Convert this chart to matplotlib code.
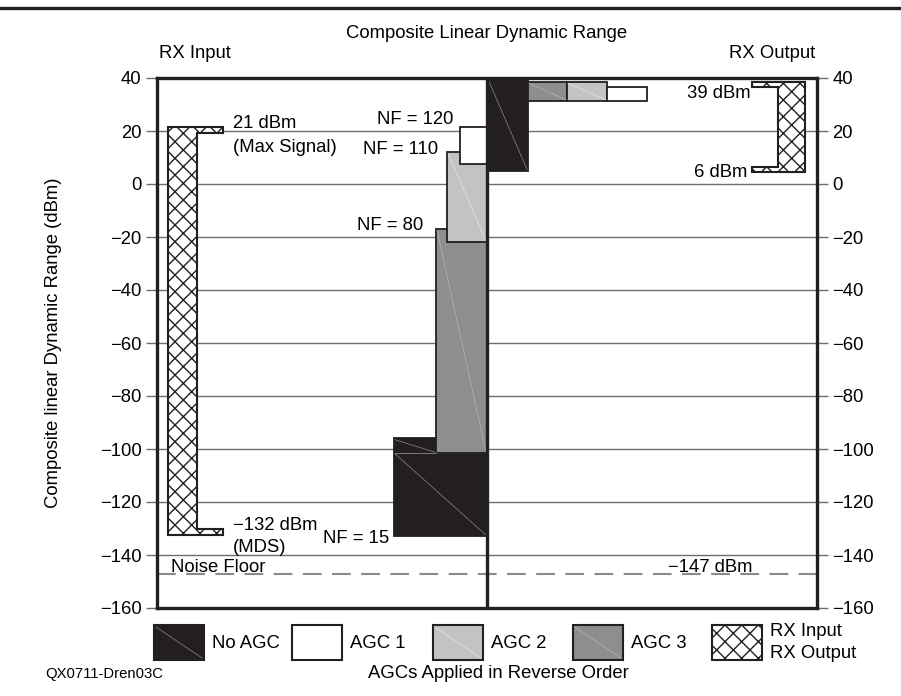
import matplotlib
matplotlib.use("Agg")
import matplotlib.pyplot as plt
from matplotlib.patches import Rectangle, Polygon

plt.rcParams['font.family'] = ['Liberation Sans', 'DejaVu Sans']

# ---------------- data ----------------
y_ticks = [40, 20, 0, -20, -40, -60, -80, -100, -120, -140, -160]
grid_levels = [20, 0, -20, -40, -60, -80, -100, -120, -140]
noise_floor = -147
rx_input = [21.5, -132.5]      # max signal, MDS (drawn)
rx_output = [38.5, 4.5]        # max, min (drawn)

series = ["No AGC", "AGC 1", "AGC 2", "AGC 3"]
# input-side stair blocks (low, high) in dBm
in_low = {"No AGC": -133, "AGC 3": -101.5, "AGC 2": -22, "AGC 1": 7.5}
in_high = {"No AGC": -96, "AGC 3": -17, "AGC 2": 12, "AGC 1": 21.5}
# output-side blocks
out_low = {"No AGC": 5, "AGC 3": 31.3, "AGC 2": 31.3, "AGC 1": 31.3}
out_high = {"No AGC": 40, "AGC 3": 38.5, "AGC 2": 38.5, "AGC 1": 36.6}

nf_labels = ["NF = 15", "NF = 80", "NF = 110", "NF = 120"]

# ---------------- styles / layout ----------------
colors = {"No AGC": "#231f20", "AGC 1": "#ffffff", "AGC 2": "#c2c3c5", "AGC 3": "#8d8e90"}
diag = {"No AGC": "#8a8a8a", "AGC 1": None, "AGC 2": "#e6e6e6", "AGC 3": "#b5b5b5"}
in_x = {"No AGC": (237, 330), "AGC 3": (279, 330), "AGC 2": (290, 330), "AGC 1": (303, 330)}
out_x = {"No AGC": (330, 371), "AGC 3": (371, 410), "AGC 2": (410, 450), "AGC 1": (450, 490)}
draw_order_in = ["No AGC", "AGC 3", "AGC 2", "AGC 1"]
FS = 13.3

W, H = 901, 696
fig = plt.figure(figsize=(W / 100, H / 100), dpi=100)

lax = fig.add_axes([0, 0, 1, 1])
lax.set_xlim(0, W)
lax.set_ylim(H, 0)
lax.axis("off")
lax.set_zorder(0)

ax = fig.add_axes([157 / W, 1 - 608 / H, 660 / W, (608 - 78) / H])
ax.set_zorder(1)
ax.set_xlim(0, 660)
ax.set_ylim(-160, 40)

for g in grid_levels:
    ax.axhline(g, color="#6e6e6e", lw=1.0, zorder=1)
ax.axhline(noise_floor, color="#8a8a8a", lw=1.5, ls=(0, (9, 5)), zorder=1)

# input-side blocks
for s in draw_order_in:
    x0, x1 = in_x[s]
    ax.bar(x0, in_high[s] - in_low[s], bottom=in_low[s], width=x1 - x0, align="edge",
           color=colors[s], edgecolor="#231f20", linewidth=1.3, zorder=3)
    if diag[s] and s != "No AGC":
        ax.plot([x0 + 1, x1 - 1], [in_high[s] - 0.5, in_low[s] + 0.5], color=diag[s], lw=0.5, zorder=4)
# hairlines inside the lower No AGC block
nx0, nx1 = in_x["No AGC"]
ax.plot([nx0 + 1, nx1 - 1], [in_low["AGC 3"] - 0.3, in_low["No AGC"] + 0.5], color=diag["No AGC"], lw=0.5, zorder=4)
ax.plot([nx0 + 1, in_x["AGC 3"][0] - 1], [in_high["No AGC"] - 0.5, in_low["AGC 3"] + 0.3], color=diag["No AGC"], lw=0.5, zorder=4)
ax.plot([nx0 + 1, in_x["AGC 3"][0]], [in_low["AGC 3"], in_low["AGC 3"]], color=diag["No AGC"], lw=0.6, zorder=4)

# output-side blocks
for s in ["No AGC", "AGC 3", "AGC 2", "AGC 1"]:
    x0, x1 = out_x[s]
    ax.bar(x0, out_high[s] - out_low[s], bottom=out_low[s], width=x1 - x0, align="edge",
           color=colors[s], edgecolor="#231f20", linewidth=1.3, zorder=3)
    if diag[s]:
        ax.plot([x0 + 1, x1 - 1], [out_high[s] - 0.5, out_low[s] + 0.5], color=diag[s], lw=0.5, zorder=4)

# RX input bracket
fl = 2.3
ti, bi = rx_input
pin = [(11, ti), (66, ti), (66, ti - fl), (40, ti - fl), (40, bi + fl), (66, bi + fl), (66, bi), (11, bi)]
ax.add_patch(Polygon(pin, closed=True, facecolor="white", edgecolor="#231f20", hatch="xx", lw=1.5, zorder=3))
# RX output bracket
to, bo = rx_output
pout = [(648, to), (595, to), (595, to - 1.8), (621, to - 1.8), (621, bo + 1.8), (595, bo + 1.8), (595, bo), (648, bo)]
ax.add_patch(Polygon(pout, closed=True, facecolor="white", edgecolor="#231f20", hatch="xx", lw=1.5, zorder=3))

ax.axvline(330, color="#231f20", lw=2.4, zorder=5)

for sp in ax.spines.values():
    sp.set_linewidth(2.4)
    sp.set_color("#231f20")
ax.set_xticks([])
ax.set_yticks(y_ticks)
ax.set_yticklabels([f"{v:d}".replace("-", "\u2212") for v in y_ticks])
ax.tick_params(axis="y", direction="out", length=8, width=1.0, color="#6e6e6e",
               labelsize=FS, left=True, right=True, labelleft=True, labelright=True, pad=3)
ax.set_ylabel("Composite linear Dynamic Range (dBm)", fontsize=FS)
ax.yaxis.set_label_coords((62 - 157) / 660, 0.5)

# annotations
ax.text(76, 22.8, "21 dBm", fontsize=FS, va="center", ha="left", zorder=6)
ax.text(76, 13.8, "(Max Signal)", fontsize=FS, va="center", ha="left", zorder=6)
ax.text(76, -128.8, "\u2212132 dBm", fontsize=FS, va="center", ha="left", zorder=6)
ax.text(76, -137.2, "(MDS)", fontsize=FS, va="center", ha="left", zorder=6)
ax.text(14, -144.6, "Noise Floor", fontsize=FS, va="center", ha="left", zorder=6)
ax.text(596, -144.6, "\u2212147 dBm", fontsize=FS, va="center", ha="right", zorder=6)
ax.text(232, -133.7, nf_labels[0], fontsize=FS, va="center", ha="right", zorder=6)
ax.text(266, -15.5, nf_labels[1], fontsize=FS, va="center", ha="right", zorder=6)
ax.text(281, 13, nf_labels[2], fontsize=FS, va="center", ha="right", zorder=6)
ax.text(296, 24.3, nf_labels[3], fontsize=FS, va="center", ha="right", zorder=6)
ax.text(594, 34, "39 dBm", fontsize=FS, va="center", ha="right", zorder=6)
ax.text(590, 4.3, "6 dBm", fontsize=FS, va="center", ha="right", zorder=6)

# titles
lax.plot([0, W], [8, 8], color="#231f20", lw=2.4)
lax.text(487, 34, "Composite Linear Dynamic Range", fontsize=FS, ha="center", va="center")
lax.text(195, 53, "RX Input", fontsize=FS, ha="center", va="center")
lax.text(772, 53, "RX Output", fontsize=FS, ha="center", va="center")

# legend
leg_items = [("No AGC", 154), ("AGC 1", 292), ("AGC 2", 433), ("AGC 3", 573)]
for name, x0 in leg_items:
    lax.add_patch(Rectangle((x0, 625), 50, 35, facecolor=colors[name], edgecolor="#231f20", lw=1.5))
    if diag[name]:
        lax.plot([x0 + 2, x0 + 48], [627, 658], color=diag[name], lw=0.5)
    lax.text(x0 + 58, 643, name, fontsize=FS, ha="left", va="center")
lax.add_patch(Rectangle((712, 625), 50, 35, facecolor="white", edgecolor="#231f20", lw=1.5, hatch="xx"))
lax.text(770, 632, "RX Input", fontsize=FS, ha="left", va="center")
lax.text(770, 654, "RX Output", fontsize=FS, ha="left", va="center")
lax.text(498, 674, "AGCs Applied in Reverse Order", fontsize=FS, ha="center", va="center")
lax.text(45, 674, "QX0711-Dren03C", fontsize=10.7, ha="left", va="center")

fig.savefig("out.png", dpi=100)
